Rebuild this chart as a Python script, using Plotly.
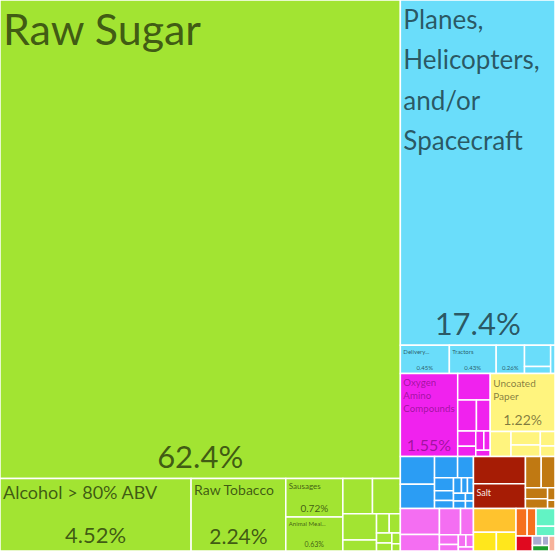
import plotly.graph_objects as go

# ---------------- data ----------------
sectors = ["Foodstuffs", "Transportation", "Chemical Products", "Paper Goods",
           "Machines", "Plastics and Rubbers", "Mineral Products", "Metals",
           "Vegetable Products", "Animal Products", "Animal and Vegetable Bi-Products",
           "Animal Hides", "Wood Products", "Miscellaneous", "Textiles", "Stone And Glass"]

foodstuffs = ["Raw Sugar", "Alcohol > 80% ABV", "Raw Tobacco", "Sausages", "Animal Meal and Pellets",
              "Rolled Tobacco", "Sauces and Seasonings", "Baked Goods", "Processed Fish", "Other Sugars",
              "Fruit Juice", "Flavored Water", "Beer", "Chocolate", "Pasta"]
foodstuffs_val = [62.4, 4.52, 2.24, 0.72, 0.63, 0.34, 0.32, 0.29, 0.12, 0.08, 0.07, 0.05, 0.04, 0.03, 0.02]

transportation = ["Planes, Helicopters, and/or Spacecraft", "Delivery Trucks", "Tractors", "Cars",
                  "Vehicle Parts", "Boats", "Motorcycles"]
transportation_val = [17.4, 0.45, 0.43, 0.26, 0.18, 0.06, 0.04]

chemicals = ["Oxygen Amino Compounds", "Packaged Medicaments", "Nitrogen Heterocyclic Compounds",
             "Beauty Products", "Soap", "Cleaning Products", "Pesticides", "Perfumes", "Glues"]
chemicals_val = [1.55, 0.28, 0.19, 0.14, 0.09, 0.06, 0.05, 0.04, 0.03]

paper = ["Uncoated Paper", "Paper Containers", "Labels", "Toilet Paper", "Printed Books", "Other Paper"]
paper_val = [1.22, 0.17, 0.13, 0.11, 0.07, 0.05]

machines = ["Computers", "Electrical Transformers", "Telephones", "Air Pumps", "Centrifuges", "Valves",
            "Liquid Pumps", "Electric Motors", "Insulated Wire", "Broadcasting Equipment",
            "Electrical Parts", "Refrigerators", "Excavation Machinery", "Electric Batteries"]
machines_val = [0.31, 0.27, 0.16, 0.11, 0.08, 0.06, 0.05, 0.04, 0.03, 0.03, 0.03, 0.03, 0.02, 0.02]

plastics = ["Plastic Lids", "Rubber Tires", "Plastic Pipes", "Raw Plastic Sheeting", "Plastic Housewares",
            "Plastic Building Materials", "Polyethylene", "Rubber Belts", "Other Plastic Sheetings"]
plastics_val = [0.33, 0.21, 0.18, 0.11, 0.06, 0.04, 0.03, 0.03, 0.02]

minerals = ["Cement", "Salt"]
minerals_val = [0.46, 0.42]

metals = ["Iron Structures", "Aluminium Bars", "Iron Bars", "Iron Fasteners", "Metal Tools", "Copper Wire"]
metals_val = [0.16, 0.14, 0.08, 0.07, 0.03, 0.02]

vegetable = ["Spice Seeds"]
vegetable_val = [0.33]
animal = ["Frozen Fish", "Honey"]
animal_val = [0.14, 0.12]
biproducts = ["Pure Vegetable Oils", "Margarine"]
biproducts_val = [0.10, 0.08]
hides = ["Leather Goods", "Tanned Hides"]
hides_val = [0.11, 0.06]
wood = ["Sawn Wood"]
wood_val = [0.08]
misc = ["Furniture", "Toys"]
misc_val = [0.03, 0.02]
textiles = ["Non-Knit Apparel"]
textiles_val = [0.03]
stone = ["Glass Bottles"]
stone_val = [0.03]

children = [foodstuffs, transportation, chemicals, paper, machines, plastics, minerals, metals,
            vegetable, animal, biproducts, hides, wood, misc, textiles, stone]
children_val = [foodstuffs_val, transportation_val, chemicals_val, paper_val, machines_val, plastics_val,
                minerals_val, metals_val, vegetable_val, animal_val, biproducts_val, hides_val, wood_val,
                misc_val, textiles_val, stone_val]

# ---------------- styles ----------------
sector_colors = ["#A2E432", "#6ADDFA", "#F022EE", "#FFF47E", "#2B9DF4", "#F46EF2", "#A61C05", "#C07912",
                 "#FFC32E", "#FFE71C", "#F6701E", "#62F3C4", "#E0091F", "#A9ACD0", "#1E9E2E", "#F7B29B"]
sector_text_colors = ["rgba(0,0,0,0.62)", "rgba(0,0,0,0.62)", "rgba(60,0,60,0.45)", "rgba(0,0,0,0.5)",
                      "rgba(0,0,0,0.6)", "rgba(0,0,0,0.6)", "rgba(255,255,255,0.9)", "rgba(0,0,0,0.6)",
                      "rgba(0,0,0,0.6)", "rgba(0,0,0,0.6)", "rgba(0,0,0,0.6)", "rgba(0,0,0,0.6)",
                      "rgba(255,255,255,0.9)", "rgba(0,0,0,0.6)", "rgba(255,255,255,0.9)", "rgba(0,0,0,0.6)"]

PLANES_LINES = ["Planes,", "Helicopters,", "and/or", "Spacecraft"]
planes_disp = "<br>".join(f'<span style="font-size:26px">{t}</span>' for t in PLANES_LINES)

# display label (with wraps), label size (sets line spacing), percent size
shown = {
    "Raw Sugar": ("Raw Sugar", 43, 31),
    "Alcohol > 80% ABV": ("Alcohol > 80% ABV", 18, 22),
    "Raw Tobacco": ("Raw Tobacco", 14, 21),
    "Sausages": ("Sausages", 8, 10),
    "Animal Meal and Pellets": ("Animal Meal...", 6, 7),
    "Planes, Helicopters, and/or Spacecraft": (planes_disp, 31, 31),
    "Delivery Trucks": ("Delivery...", 6, 6),
    "Tractors": ("Tractors", 6, 6),
    "Cars": ("", 6, 6),
    "Oxygen Amino Compounds": ("Oxygen<br>Amino<br>Compounds", 10, 16),
    "Uncoated Paper": ("Uncoated<br>Paper", 10, 14),
    "Salt": ("Salt", 9, None),
}

FONT = "Source Sans Pro, Lato, sans-serif"

ids, labels, parents, values, colors = [], [], [], [], []
lab_text, lab_size, lab_color = [], [], []
pct_text, pct_size, pct_color = [], [], []

for s, col, tcol, names, vals in zip(sectors, sector_colors, sector_text_colors, children, children_val):
    ids.append("s/" + s); labels.append(s); parents.append(""); values.append(0); colors.append(col)
    lab_text.append(""); lab_size.append(10); lab_color.append(tcol)
    pct_text.append(""); pct_size.append(10); pct_color.append(tcol)
    for n, v in zip(names, vals):
        ids.append("p/" + n); labels.append(n); parents.append("s/" + s); values.append(v); colors.append(col)
        if n in shown:
            disp, ls, ps = shown[n]
            lab_text.append(disp); lab_size.append(ls); lab_color.append(tcol)
            pct_text.append(f"{v:.3g}%" if ps else ""); pct_size.append(ps or 6); pct_color.append(tcol)
        else:
            lab_text.append(""); lab_size.append(6); lab_color.append(tcol)
            pct_text.append(""); pct_size.append(6); pct_color.append(tcol)

common = dict(ids=ids, labels=labels, parents=parents, values=values, branchvalues="remainder",
              sort=True, tiling=dict(packing="squarify", squarifyratio=1.618, pad=0),
              pathbar=dict(visible=False), domain=dict(x=[0, 1], y=[0, 1]),
              texttemplate="%{text}", hoverinfo="skip")

fig = go.Figure()
fig.add_trace(go.Treemap(
    **common,
    text=lab_text,
    textposition="top left",
    textfont=dict(family=FONT, size=lab_size, color=lab_color),
    marker=dict(colors=colors, line=dict(color="white", width=1.5), pad=dict(t=0, l=0, r=0, b=0)),
))
fig.add_trace(go.Treemap(
    **common,
    text=pct_text,
    textposition="bottom center",
    textfont=dict(family=FONT, size=pct_size, color=pct_color),
    marker=dict(colors=["rgba(0,0,0,0)"] * len(ids), line=dict(color="rgba(0,0,0,0)", width=0),
                pad=dict(t=0, l=0, r=0, b=0)),
))

fig.update_layout(width=555, height=551, margin=dict(l=0, r=0, t=0, b=0),
                  paper_bgcolor="white", plot_bgcolor="white", showlegend=False, hovermode=False)
fig.write_html("out.html", config={"displayModeBar": False, "staticPlot": True},
               post_script="document.body.style.margin='0';document.body.style.overflow='hidden';")
